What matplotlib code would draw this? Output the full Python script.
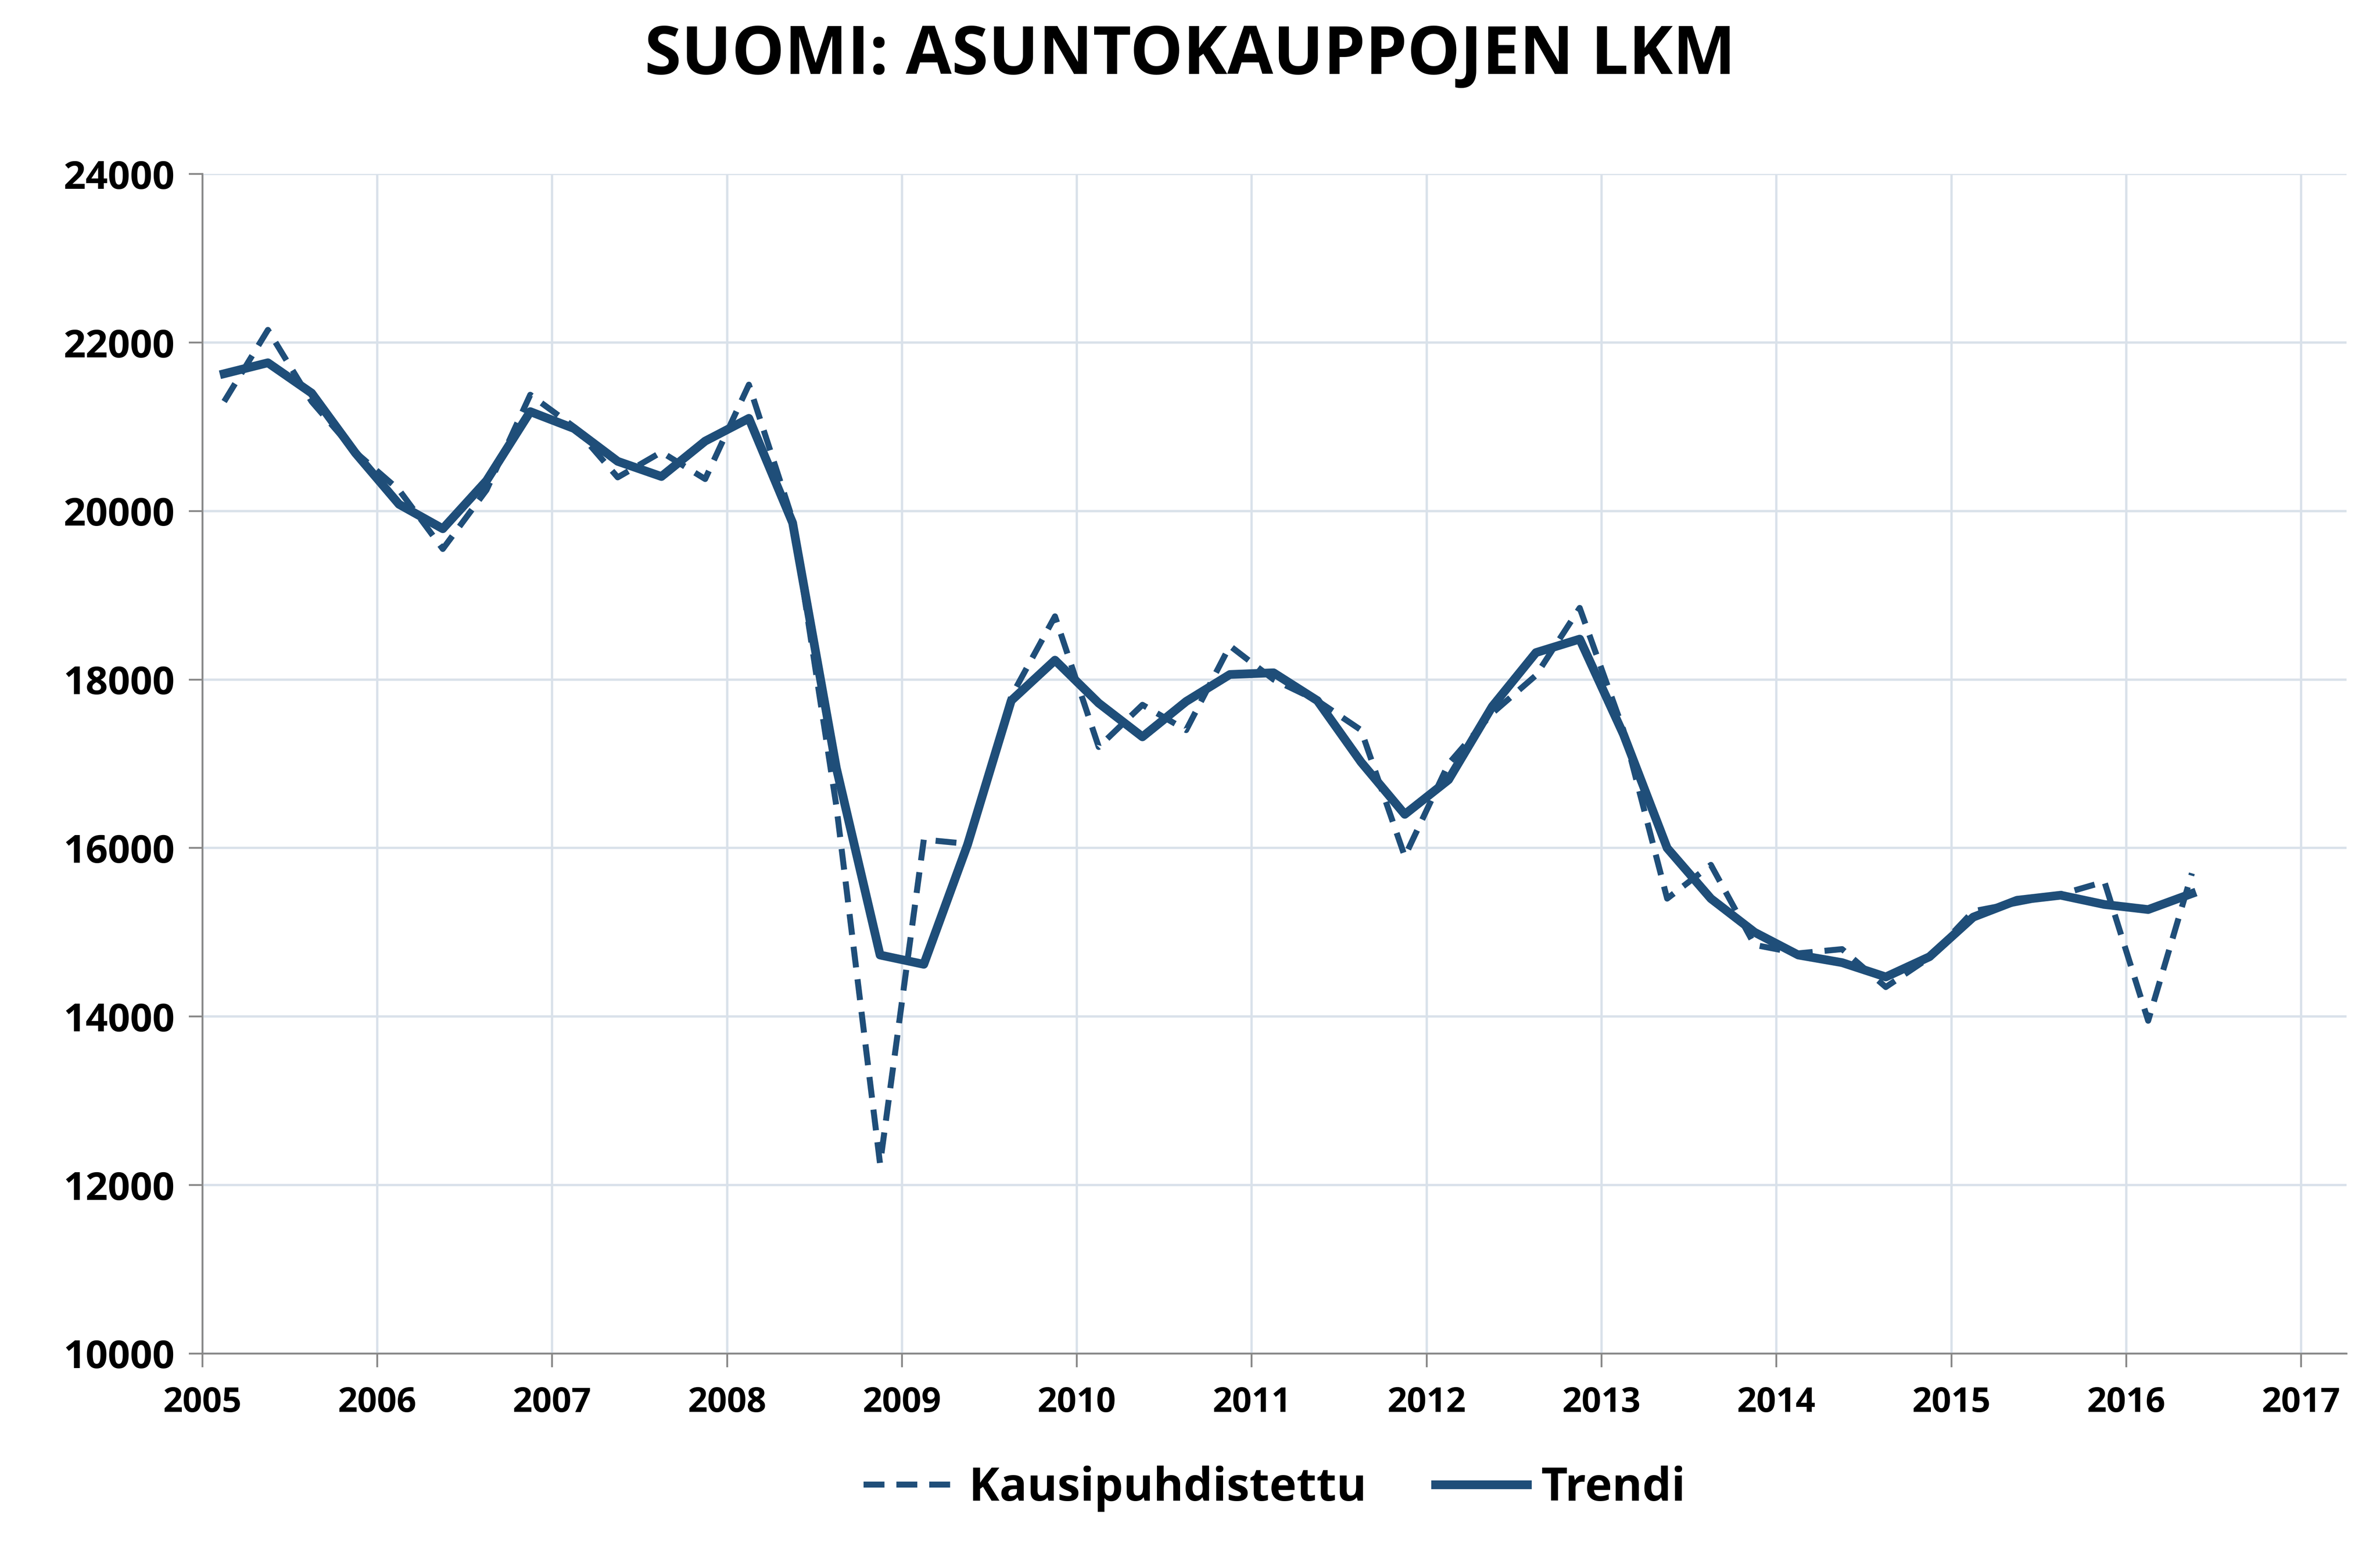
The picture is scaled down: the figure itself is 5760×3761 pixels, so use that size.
import matplotlib
matplotlib.use("Agg")
import matplotlib.pyplot as plt
import numpy as np

years = list(range(2005, 2018))
kausi = [21300, 22150, 21300, 20700, 20250, 19550, 20250, 21380, 21000, 20400, 20700, 20380,
         21500, 19900, 16500, 12250, 16100, 16050, 17800, 18750, 17200, 17700, 17400, 18400,
         18000, 17750, 17400, 15900, 17000, 17600, 18050, 18850, 17400, 15400, 15800, 14850,
         14750, 14800, 14350, 14700, 15250, 15350, 15450, 15600, 13950, 15700]
trendi = [21630, 21760, 21400, 20690, 20080, 19790, 20360, 21180, 20980, 20590, 20410, 20830,
          21100, 19860, 16950, 14730, 14620, 16040, 17750, 18230, 17720, 17320, 17740, 18060,
          18080, 17750, 17020, 16400, 16810, 17680, 18320, 18480, 17350, 16000, 15400, 15000,
          14730, 14640, 14470, 14710, 15180, 15380, 15440, 15330, 15270, 15460]
x = 2005.125 + 0.25 * np.arange(len(trendi))

plt.rcParams["font.family"] = "Open Sans"
col = "#1F4E79"
fig = plt.figure(figsize=(14.4, 9.4025), dpi=400)
ax = fig.add_axes([0.085, 0.129, 0.901, 0.759])
ax.plot(x, kausi, color=col, lw=2.6, ls=(0, (3.5, 2)), label="Kausipuhdistettu")
ax.plot(x, trendi, color=col, lw=3.8, label="Trendi")
ax.set_xlim(2005, 2017.26)
ax.set_ylim(10000, 24000)
ax.set_xticks(years)
ax.set_yticks(range(10000, 24001, 2000))
ax.tick_params(axis="x", labelsize=15, length=6, color="#888888", pad=8)
ax.tick_params(axis="y", labelsize=17, length=6, color="#888888", pad=6)
for lab in ax.get_xticklabels() + ax.get_yticklabels():
    lab.set_fontweight("bold")
ax.grid(True, color="#D9E1EA", lw=1)
ax.set_axisbelow(True)
for s in ["top", "right"]:
    ax.spines[s].set_visible(False)
for s in ["left", "bottom"]:
    ax.spines[s].set_color("#888888")
fig.suptitle("SUOMI: ASUNTOKAUPPOJEN LKM", fontsize=29, fontweight="bold", y=0.985)
leg = ax.legend(loc="upper center", bbox_to_anchor=(0.5, -0.06), ncol=2, frameon=False,
                prop={"size": 20, "weight": "bold"}, handlelength=2.0, handletextpad=0.3,
                columnspacing=1.5)
fig.savefig("out.png", dpi=400)
